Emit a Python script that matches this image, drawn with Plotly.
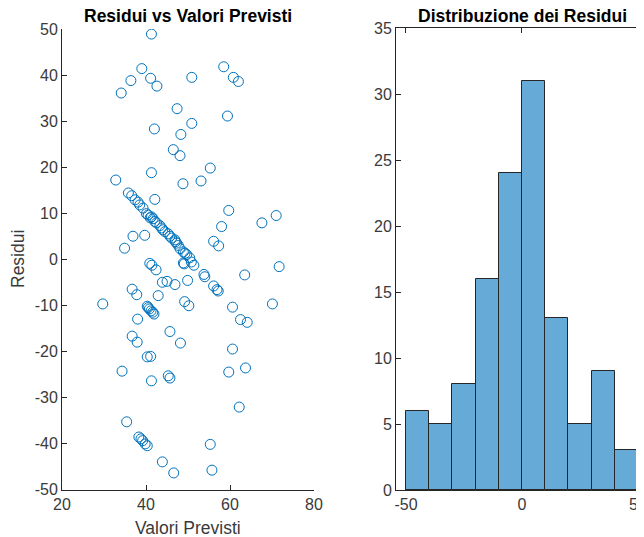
import plotly.graph_objects as go

# Predicted values (x) and residuals (y)
valori_previsti = [
    41.3, 39.0, 58.5,
    36.4, 41.1, 42.6, 50.9, 60.8, 62.0, 34.1, 47.4, 59.4,
    50.9, 42.0, 48.3, 46.5, 48.1,
    55.3, 41.3, 32.8, 53.1, 48.8, 42.1, 59.7, 35.8, 36.6, 37.4, 38.1, 38.5, 39.3,
    40.1, 40.5, 41.0, 41.3, 41.7, 42.1, 42.5, 43.3, 43.7, 44.0, 44.5, 45.3, 45.7,
    46.1, 46.9, 47.0, 47.3, 47.7, 48.1, 48.9, 49.3, 49.7, 50.4, 36.9, 39.7, 34.9,
    56.1, 57.3, 67.6, 71.0, 58.0,
    29.7, 70.1, 49.2, 42.9, 37.8, 36.7, 56.1, 56.9, 57.2, 46.9, 43.9, 45.0, 49.9,
    53.8, 54.0, 63.5, 42.4, 40.9, 41.4, 49.1, 51.4, 71.7, 50.8, 48.9,
    40.3, 40.8, 41.6, 41.9, 40.5, 41.2, 50.2, 60.6, 38.0, 62.5, 64.1, 45.7, 48.2,
    36.7, 37.9, 60.6,
    40.3, 41.1, 34.3, 41.3, 45.3, 45.7, 59.7, 63.7,
    62.2, 35.4, 38.3, 38.8, 39.2,
    39.8, 40.3, 43.9, 46.6, 55.3, 55.7,
]
residui = [
    48.9, 41.4, 41.8,
    38.8, 39.3, 37.6, 39.5, 39.5, 38.6, 36.1, 32.7, 31.1,
    29.5, 28.3, 27.1, 23.8, 22.5,
    19.8, 18.8, 17.2, 17.0, 16.4, 13.0, 10.6, 14.4, 13.8, 12.9, 12.4, 11.8, 11.1,
    9.9, 9.6, 9.0, 9.2, 8.8, 8.2, 7.9, 7.3, 6.8, 6.4, 6.0, 5.5, 5.0,
    4.6, 4.2, 3.8, 3.5, 3.0, 2.3, 1.6, 1.3, 1.0, 0.3, 5.0, 5.2, 2.4,
    3.9, 2.9, 7.9, 9.5, 7.1,
    -9.7, -9.7, -9.2, -7.9, -7.7, -6.5, -5.8, -6.6, -6.9, -5.5, -5.0, -4.8, -4.6,
    -3.3, -3.8, -3.4, -2.3, -0.9, -1.3, -1.0, -1.3, -1.6, -0.6, -0.8,
    -10.2, -10.8, -11.5, -11.9, -10.5, -11.2, -10.1, -10.4, -13.0, -13.1, -13.7, -15.7, -18.2,
    -16.7, -18.0, -19.5,
    -21.2, -21.1, -24.3, -26.4, -25.3, -25.8, -24.5, -23.6,
    -32.1, -35.3, -38.6, -39.0, -39.4,
    -40.1, -40.5, -44.0, -46.4, -40.2, -45.8,
]

scatter_x_ticks = [20, 40, 60, 80]
scatter_y_ticks = [-50, -40, -30, -20, -10, 0, 10, 20, 30, 40, 50]
hist_x_ticks = [-50, 0, 50]
hist_y_ticks = [0, 5, 10, 15, 20, 25, 30, 35]

# page body has an 8px margin, so the figure is 8px smaller and all positions shift by 8px
OFF = 8
W, H = 644 - OFF, 537 - OFF
FONT = "Liberation Sans, Arial, sans-serif"
AX = "#262626"
TXT = "#3a3a3a"


def fx(px):
    return (px - OFF) / W


def fy(py):
    return 1 - (py - OFF) / H


def labels(vals):
    return [str(v) for v in vals]


fig = go.Figure()
fig.add_trace(go.Scatter(
    x=valori_previsti, y=residui, mode="markers",
    marker=dict(symbol="circle-open", size=10, color="#0072BD", line=dict(width=1, color="#0072BD")),
    xaxis="x", yaxis="y", showlegend=False,
))
fig.add_trace(go.Histogram(
    x=residui, xbins=dict(start=-50, end=50, size=10), autobinx=False,
    marker=dict(color="rgb(102,170,215)", line=dict(color="#262626", width=1)),
    xaxis="x2", yaxis="y2", showlegend=False,
))

common = dict(showgrid=False, zeroline=False, showline=True, linecolor=AX, linewidth=1,
              ticks="inside", ticklen=5, tickcolor=AX, tickwidth=1, automargin=False,
              tickfont=dict(family=FONT, size=16, color=TXT))

fig.update_layout(
    width=W, height=H, margin=dict(l=0, r=0, t=0, b=0, autoexpand=False),
    paper_bgcolor="white", plot_bgcolor="white", bargap=0,
    xaxis=dict(domain=[fx(62), fx(314)], range=[20, 80], tickvals=scatter_x_ticks,
               ticktext=labels(scatter_x_ticks), anchor="y", **common),
    yaxis=dict(domain=[fy(489.5), fy(29)], range=[-50, 50], tickvals=scatter_y_ticks,
               ticktext=labels(scatter_y_ticks), anchor="x", **common),
    xaxis2=dict(domain=[fx(396), 1.0], range=[-54.3, 52.6], tickvals=hist_x_ticks,
                ticktext=labels(hist_x_ticks), anchor="y2", mirror="ticks",
                ticklabeloverflow="allow", **common),
    yaxis2=dict(domain=[fy(490), fy(28)], range=[0, 35], tickvals=hist_y_ticks,
                ticktext=labels(hist_y_ticks), anchor="x2", **common),
    annotations=[
        dict(text="<b>Residui vs Valori Previsti</b>", x=fx(188), y=fy(15.5), xref="paper", yref="paper",
             showarrow=False, xanchor="center", yanchor="middle",
             font=dict(family=FONT, size=17.5, color="#000")),
        dict(text="<b>Distribuzione dei Residui</b>", x=fx(522), y=fy(15.5), xref="paper", yref="paper",
             showarrow=False, xanchor="center", yanchor="middle",
             font=dict(family=FONT, size=17.5, color="#000")),
        dict(text="Valori Previsti", x=fx(188), y=fy(527.5), xref="paper", yref="paper",
             showarrow=False, xanchor="center", yanchor="middle",
             font=dict(family=FONT, size=17.5, color=TXT)),
        dict(text="Residui", x=fx(18), y=fy(259), xref="paper", yref="paper", textangle=-90,
             showarrow=False, xanchor="center", yanchor="middle",
             font=dict(family=FONT, size=17.5, color=TXT)),
    ],
)

fig.write_html("out.html")
